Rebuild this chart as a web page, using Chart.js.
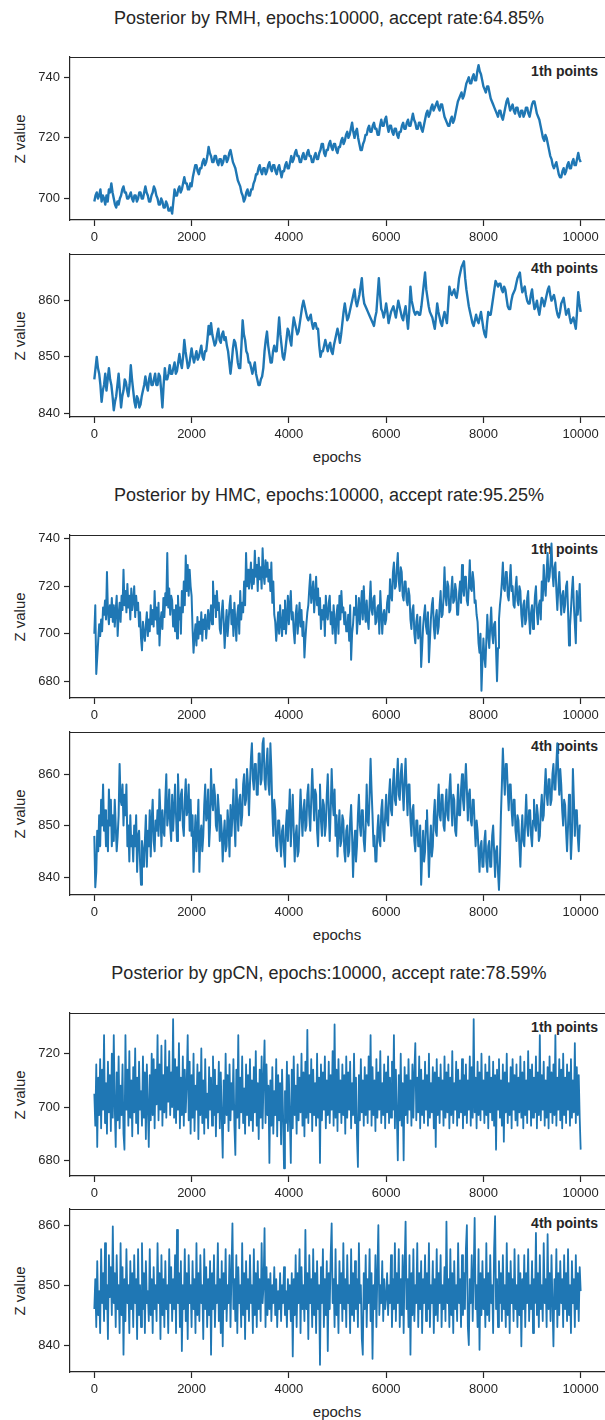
<!DOCTYPE html>
<html>
<head>
<meta charset="utf-8">
<script src="https://cdn.jsdelivr.net/npm/chart.js@4.4.1/dist/chart.umd.min.js"></script>
<style>
  body {
    margin: 0;
    background: #fff;
    width: 605px;
    height: 1420px;
    position: relative;
    overflow: hidden;
    font-family: "Liberation Sans", Arial, sans-serif;
    color: #262626;
  }
  canvas { position: absolute; left: 0; z-index: 1; }
  .title {
    position: absolute; left: 0; width: 658px;
    text-align: center; font-size: 18px; line-height: 20px;
  }
  .ylabel {
    position: absolute; left: 19px; font-size: 15px; white-space: nowrap;
    transform: translate(-50%, -50%) rotate(-90deg);
  }
  .xlabel {
    position: absolute; left: 337px; font-size: 15px;
    transform: translate(-50%, -50%);
  }
  .tag {
    position: absolute; right: 7px; font-size: 14px; font-weight: bold;
    line-height: 16px; z-index: 0;
  }
</style>
</head>
<body>
<script>
const EPOCHS = 10000;
const epochTicks = [0, 2000, 4000, 6000, 8000, 10000];

// RMH chains, one sample every 25 epochs
const rmhZ1 = [
  699,701,702,700,701,703,699,701,700,698,701,699,703,702,705,702,700,698,697,699,
  698,700,701,703,704,702,702,700,700,701,702,700,699,701,701,699,700,702,702,700,
  700,702,704,702,701,699,699,701,702,704,703,701,700,698,698,700,699,697,697,699,
  698,696,696,697,695,699,703,701,701,703,704,702,703,705,707,705,705,703,703,705,
  704,707,709,711,711,709,708,710,710,712,713,711,712,714,717,715,714,712,712,714,
  714,712,711,713,713,711,712,714,714,712,713,715,716,714,712,711,710,708,706,705,
  704,702,701,699,700,702,703,701,701,703,703,705,706,708,708,710,711,709,708,710,
  710,708,709,711,712,710,709,711,711,709,708,710,711,709,707,709,709,711,712,710,
  710,712,714,712,713,715,716,714,714,712,712,714,715,713,713,715,716,714,714,712,
  712,714,715,713,713,715,716,718,718,715,714,716,716,718,719,717,716,718,718,716,
  715,717,717,719,720,718,719,721,722,720,721,723,725,722,720,722,723,720,718,716,
  716,718,719,721,721,723,724,722,722,724,725,723,723,721,721,724,726,724,724,726,
  727,724,722,724,724,722,721,723,723,721,720,722,722,724,725,723,723,725,726,724,
  724,726,728,726,725,723,723,725,725,723,722,724,726,728,729,727,728,730,731,729,
  730,731,732,730,729,731,731,729,727,726,725,724,724,726,727,725,726,728,730,732,
  733,734,735,733,734,736,738,739,740,738,738,740,741,739,739,742,744,742,741,739,
  737,736,735,737,737,735,733,732,731,730,729,728,727,729,729,727,726,728,730,732,
  733,731,729,730,731,729,728,730,730,728,727,729,729,727,728,730,730,728,727,729,
  731,732,732,730,728,727,726,724,722,720,719,721,720,718,716,714,713,711,710,711,
  712,710,708,707,707,709,710,708,709,711,712,710,710,712,713,711,711,713,715,713,
  712
];
const rmhZ4 = [
  846,848,850,848,847,845,842,844,845,847,844,846,848,846,845,843,840.5,842,843,845,
  847,844,841,843,844,846,845.5,844,843,845,848.5,846,844,842,841,843,842.5,841,841.5,843,
  844,845,846.5,845,844,846,847,845,845,846,847,845,845,847,846.5,844,841,845,848,846,
  846,847,848.5,847,847,848,849,847,847.5,849,850.5,849,848,850,853,851,849.5,848,848.5,850,
  851.5,850,849,850,851,849.5,850,851,852,850,849.5,851,851,853,855.5,854,856,854,853,852,
  852.5,854,855,853,852.5,854,854.5,853,853.5,852,851,849,847,849,851.5,853,852.5,851,849,848,
  848,852,856.5,854,853,851,850.5,849,849,848,847,848,849,847,846,845,845,846,846.5,848,
  851,853,854.5,852,850.5,849,849,851,852,851,851,854,857,854,852,850,849.5,851,853,855,
  854.5,853,852,855,857,856,855,854,854.5,856,857.5,859,860,859,858,857,856.5,857,857.5,856,
  855,856,856,855,855,852,850,851,851,852,853,852,851,852,852.5,851,850.5,852,853,854,
  855,854,852.5,854,856,858,859.5,858,856.5,857,858,859,860,861,862,860,859,860,861,862.5,
  864,861,859.5,859,858.5,858,857.5,857,856.5,856,855.5,857,858,861,864,861,858.5,858,857,858,
  859.5,858,856,857,858,858.5,859,858,857,858.5,860,859,858,857,856.5,858,859,857,855,858,
  862.5,860,859,858,857.5,858,858,857.5,857.5,859,861,863,865,862,860.5,859,858,857.5,857,856,
  855,857,859.5,858,857,856,855.5,857,858,857,856,859,862.5,861.5,861,861.5,862,861,860.5,862,
  864,865,866,866.5,867,864,862,860.5,859,858,857,856,855.5,856.5,857.5,856.5,856,857,858,856.5,
  855,854,853.5,856,858,857.5,857.5,859,860.5,862,863.5,863,862.5,863,863,862,861.5,862.5,862,860.5,
  859,858.5,858.5,860,861,861.5,862,863,864,864.5,865,863,861.5,862,862.5,861,860,859.5,859.5,861,
  862,860,858.5,859,860,858.5,857.5,859,860.5,860,859,860,861,862,862.5,861,860,860.5,861,860,
  858.5,857.5,857,858,859.5,860,860.5,859,857.5,858,858.5,857,856,856.5,857,856,855,858,861.5,859.5,
  858
];

// HMC chains, one sample every 20 epochs
const hmcZ1 = [
  700,712,683,690,697,704,699,706,701,711,708,714,706,726,709,704,712,707,715,705,
  712,703,710,716,699,708,713,705,716,710,727,712,718,709,721,711,716,706,719,710,
  714,720,707,716,710,713,703,709,698,693,705,700,697,704,709,699,706,701,712,704,
  710,703,718,706,711,700,713,695,705,709,702,715,707,717,712,734,711,719,708,716,
  714,703,710,701,712,698,716,706,711,700,718,709,722,712,733,718,729,716,727,720,
  716,702,692,699,704,695,707,698,705,700,709,697,706,702,708,698,704,710,702,707,
  712,704,722,711,716,707,718,710,713,702,700,709,714,705,694,703,710,699,705,712,
  716,704,710,699,713,705,697,708,712,700,718,706,713,709,722,712,734,720,727,719,
  723,730,719,727,721,735,724,729,718,732,723,728,719,736,725,721,731,724,730,722,
  727,718,730,713,722,708,705,697,703,709,700,712,704,699,710,702,714,700,707,716,
  704,712,718,706,709,701,696,708,712,700,706,713,703,710,699,705,690,698,704,709,
  712,719,725,713,717,722,709,716,724,712,719,708,715,702,710,706,712,699,716,708,
  706,713,716,704,709,700,712,705,696,708,712,700,716,706,718,709,711,704,709,701,
  701,708,697,712,689,700,704,711,708,716,700,707,715,704,711,718,706,720,710,705,
  714,706,702,713,722,710,708,715,716,704,705,711,712,700,718,709,700,708,710,704,
  706,713,716,709,723,716,714,726,730,719,720,728,734,722,718,728,726,716,714,722,
  722,714,712,719,716,706,702,710,712,700,696,705,708,698,700,707,686,694,703,708,
  712,703,700,709,688,697,706,712,715,703,698,707,710,700,703,712,718,707,708,715,
  728,716,712,722,720,709,710,718,724,713,714,721,718,708,708,717,722,713,729,719,
  716,724,724,714,712,720,731,719,718,726,722,713,714,708,705,696,692,700,676,688,
  698,690,686,697,708,699,694,703,711,700,696,704,705,693,680,694,706,712,716,722,
  730,719,718,726,726,716,714,722,729,718,720,712,711,719,724,714,712,720,718,708,
  703,712,714,704,706,715,718,707,700,709,712,702,708,716,720,709,704,712,714,706,
  722,714,729,720,716,726,734,722,724,730,738,726,720,728,730,718,710,719,726,716,
  708,716,718,709,712,720,722,710,695,703,710,718,724,712,704,696,718,708,713,721,
  705
];
const hmcZ4 = [
  848,838,841,849,845,852,846,855,850,858,849,853,846,851,845,857,850,855,846,852,
  847,855,850,845,848,852,862,855,854,858,850,856,852,858,846,850,843,852,846,848,
  843,850,846,852,841,848,849,843,838.5,847,845,842,847,852,842,849,846,853,844,851,
  855,847,845,851,849,853,848,857,852,846,853,849,848,855,860,850,852,857,850,847,
  856,849,853,858,852,847,860,854,851,856,857,850,848,855,859,852,853,858,849,855,
  848,852,841,847,852,845,849,855,841,848,850,845,848,854,858,851,852,857,846,850,
  861,855,853,858,856,850,849,856,853,847,852,849,843,848,851,845,846,853,850,844,
  854,848,852,857,851,846,859,853,849,855,856,850,852,858,860,854,855,861,858,852,
  858,863,866,859,857,862,862,856,856,864,864,858,859,866,867,859,857,862,865,858,
  856,866,861,853,848,855,853,846,845,851,851,847,844,849,850,845,842,850,853,847,
  852,857,846,851,856,849,843,848,850,844,845,851,857,852,848,853,855,849,850,856,
  858,852,849,855,861,856,851,857,856,849,846,853,858,851,848,855,854,848,850,856,
  860,853,847,853,861,855,852,857,848,852,844,849,853,846,847,852,851,845,843,849,
  850,844,845,851,854,848,840,846,849,843,846,852,856,850,848,853,853,847,845,850,
  858,851,850,856,863,857,852,846,848,843,843,849,852,847,846,853,855,849,847,852,
  856,851,850,856,859,853,852,858,861,855,854,859,863,856,855,860,862,857,853,859,
  863,857,852,858,858,851,848,853,854,847,845,851,851,846,846,850,838.5,844,849,843,
  845,851,853,847,840,846,850,844,846,852,855,849,848,854,858,852,851,856,856,850,
  849,854,857,852,851,857,860,854,850,856,855,849,848,853,858,852,852,857,860,855,
  853,858,862,857,851,856,857,851,850,855,855,850,846,851,849,845,841,846,847,842,
  842,847,849,843,841,846,847,842,842,848,850,845,840,845,846,841,837.5,843,852,858,
  865,860,856,862,862,857,853,858,858,853,850,855,855,849,847,852,851,846,842,848,
  852,847,846,851,856,850,848,853,853,848,846,851,855,850,849,854,852,847,848,853,
  856,851,852,857,861,856,854,859,859,854,855,860,862,857,857,862,866,860,856,861,
  858,853,850,855,854,849,845,850,856,851,843.5,848,861,855,848,853,853,848,845,850,
  850
];

// gpCN chains, one sample every 20 epochs
const gpcnZ1 = [
  705,693,716,685,711,697,718,692,714,699,727,694,709,690,717,698,712,691,720,696,
  727,700,685,713,695,719,692,708,697,716,690,684,727,699,714,693,721,696,710,689,
  715,698,722,694,711,690,717,699,706,693,719,696,713,688,716,700,685,712,695,720,
  697,718,692,714,701,727,695,716,699,723,693,712,698,725,696,715,702,721,697,713,
  700,733,696,718,694,715,699,724,692,711,697,719,693,714,698,709,727,695,717,690,
  712,696,720,691,708,699,716,688,713,697,722,694,710,690,718,696,705,692,715,699,
  711,693,719,697,714,689,708,698,717,692,713,696,681,710,694,720,697,712,691,716,
  695,709,699,718,693,682,714,696,727,692,711,698,719,694,707,690,716,697,712,693,
  718,695,710,691,715,698,721,693,709,688,714,696,719,692,711,725,694,716,697,708,
  679,710,693,715,690,706,697,718,689,712,695,709,686,714,698,677,706,694,717,691,
  712,696,679,714,692,719,697,708,690,716,695,711,698,720,693,713,689,717,696,729,
  694,712,698,718,691,714,697,709,693,720,696,711,679,716,695,713,699,719,692,710,
  697,717,694,712,699,721,693,731,696,714,691,718,698,710,694,716,697,712,690,719,
  696,713,699,717,692,709,697,720,694,711,689,677.5,712,695,718,698,710,693,715,697,
  712,694,719,699,727,693,715,697,710,691,718,696,713,699,721,694,709,697,716,692,
  713,698,719,694,711,696,717,699,727,692,714,697,680,712,695,720,693,709,680,715,
  697,712,694,718,699,710,693,716,696,713,724,695,711,698,719,692,714,697,710,694,
  717,699,712,693,720,696,709,698,715,692,713,685,718,697,711,694,716,699,710,693,
  719,696,713,698,716,692,711,697,721,694,709,699,717,693,714,696,710,698,718,692,
  712,697,716,694,710,699,719,693,715,696,733,698,711,692,717,697,713,695,720,699,
  710,694,716,697,713,692,719,698,711,695,717,693,712,684,714,699,718,696,710,693,
  716,687,713,698,720,694,709,697,715,692,718,699,712,695,716,693,711,698,719,696,
  713,692,717,697,710,694,721,699,714,693,716,696,711,698,719,692,713,697,727,695,
  712,699,717,693,710,696,715,692,719,698,713,694,716,697,727,693,711,699,718,695,
  714,692,720,697,711,694,716,699,713,693,718,696,710,698,724,694,715,697,712,696,
  684
];
const gpcnZ4 = [
  846,851,843,854,845,849,842,856,847,852,844,857,846,850,841,855,848,853,845,859.8,
  847,852,843,855,846,850,842,857,845,853,838.4,851,844,856,847,850,842,854,846,852,
  843,855,847,851,841,856,845,850,843,857,846,852,842,854,847,849,844,856,845,851,
  842,853,846,850,844,857,847,852,841,855,845,851,843,854,846,850,842,856,847,853,
  844,851,846,855,842,859.2,847,852,843,854,839,850,846,856,844,852,841,855,847,850,
  843,854,846,851,842,857,845,852,844,855,847,850,841,856,846,853,843,851,845,854,
  838.4,852,846,855,843,850,847,857,844,851,842,854,839.8,852,846,856,844,850,847,855,
  843,852,860.3,846,851,844,855,842,853,847,850,843,857,845,852,841,854,846,851,844,
  855,847,850,842,856,845,852,843,854,846,851,844,857,847,850,859.5,843,853,845,851,
  846,852,844,850,847,853,845,851,843,849,846,852,844,850,847,853,845,849,843,851,
  846,850,844,852,838.1,851,845,855,843,852,847,856,842,853,846,850,844,859.2,846,852,
  841,855,847,851,843,856,845,852,842,854,846,850,836.7,853,847,856,843,851,845,854,
  839,852,846,855,860.3,847,851,843,856,845,850,842,854,847,852,844,857,846,851,843,
  855,847,850,842,856,845,852,844,854,846,851,843,857,847,850,841,838.4,852,846,855,
  843,851,847,856,844,852,837.7,850,846,855,843,852,860,845,850,847,854,844,851,846,
  848,852,845,850,847,855,843,851,846,857,844,852,847,856,843,851,845,855,842,853,
  860.6,846,851,843,855,838.4,852,845,856,844,850,847,857,843,852,846,854,842,851,847,
  855,844,852,846,857,843,850,847,854,842,851,845,856,844,852,847,855,843,850,846,
  853,844,860.6,847,851,843,856,845,852,842,854,846,850,844,857,847,851,843,855,845,
  852,846,856,860,843,840,851,847,855,844,852,861.2,846,850,843,856,839.2,852,845,854,
  846,851,843,857,845,852,844,855,847,850,842,856,861.5,846,851,843,854,847,852,844,
  855,846,850,843,857,845,852,842,854,847,851,844,856,846,850,843,855,845,852,839.8,
  851,846,855,843,852,847,856,844,850,846,854,842,851,847,858.7,845,852,843,855,846,
  850,844,857,847,851,843,858.5,846,852,844,855,847,839.8,851,846,856,843,852,845,854,
  847,851,843,855,846,852,844,856,845,850,842,854,847,851,843,855,846,852,844,853,
  849
];

const titles = [
  { text: "Posterior by RMH, epochs:10000, accept rate:64.85%", y: 18 },
  { text: "Posterior by HMC, epochs:10000, accept rate:95.25%", y: 495 },
  { text: "Posterior by gpCN, epochs:10000, accept rate:78.59%", y: 973 }
];

const panels = [
  { values: rmhZ1,  top: 57,   yMin: 692.9, yMax: 746.7, yTicks: [700, 720, 740],      tag: "1th points", epochs: false, lw: 2.4 },
  { values: rmhZ4,  top: 254,  yMin: 839.3, yMax: 868.3, yTicks: [840, 850, 860],      tag: "4th points", epochs: true,  lw: 2.4 },
  { values: hmcZ1,  top: 535,  yMin: 672.9, yMax: 741.6, yTicks: [680, 700, 720, 740], tag: "1th points", epochs: false, lw: 2.0 },
  { values: hmcZ4,  top: 732,  yMin: 836.5, yMax: 868.2, yTicks: [840, 850, 860],      tag: "4th points", epochs: true,  lw: 2.0 },
  { values: gpcnZ1, top: 1013, yMin: 674.1, yMax: 735.3, yTicks: [680, 700, 720],      tag: "1th points", epochs: false, lw: 1.8 },
  { values: gpcnZ4, top: 1209, yMin: 835.5, yMax: 862.7, yTicks: [840, 850, 860],      tag: "4th points", epochs: true,  lw: 1.8 }
];

const WIDTH = 605;
const PLOT_H = 163;
const PAD_TOP = 12;
const AXIS_H = 30;
const Y_AXIS_W = 70;
const INK = "#262626";
const LINE = "#1f77b4";

Chart.defaults.font.family = '"Liberation Sans", Arial, sans-serif';

function addText(cls, text, css) {
  const el = document.createElement("div");
  el.className = cls;
  el.textContent = text;
  Object.assign(el.style, css);
  document.body.appendChild(el);
}

// matplotlib-style frame: top edge of the axes box
const topSpine = {
  id: "topSpine",
  afterDraw(chart) {
    const { ctx, chartArea: a } = chart;
    ctx.save();
    ctx.strokeStyle = INK;
    ctx.lineWidth = 1.2;
    ctx.beginPath();
    ctx.moveTo(a.left, a.top + 0.5);
    ctx.lineTo(a.right, a.top + 0.5);
    ctx.stroke();
    ctx.restore();
  }
};

function axisStyle(ticks) {
  return {
    afterBuildTicks: (axis) => { axis.ticks = ticks.map((v) => ({ value: v })); },
    grid: { drawOnChartArea: false, tickLength: 6, tickWidth: 1.2, tickColor: INK },
    border: { color: INK, width: 1.2 },
    ticks: {
      color: INK, font: { size: 13 }, padding: 4, maxRotation: 0, autoSkip: false,
      callback: (v) => String(v)
    }
  };
}

titles.forEach((t) => addText("title", t.text, { top: (t.y - 10) + "px" }));

panels.forEach((p) => {
  const canvas = document.createElement("canvas");
  canvas.width = WIDTH;
  canvas.height = PLOT_H + PAD_TOP + AXIS_H;
  canvas.style.top = (p.top - PAD_TOP) + "px";
  document.body.appendChild(canvas);

  addText("ylabel", "Z value", { top: (p.top + PLOT_H / 2) + "px" });
  addText("tag", p.tag, { top: (p.top + 6) + "px" });
  if (p.epochs) addText("xlabel", "epochs", { top: (p.top + PLOT_H + 39) + "px" });

  const step = EPOCHS / (p.values.length - 1);
  const points = p.values.map((v, i) => ({ x: i * step, y: v }));

  new Chart(canvas, {
    type: "line",
    data: {
      datasets: [{
        data: points,
        borderColor: LINE,
        borderWidth: p.lw,
        borderJoinStyle: "round",
        pointRadius: 0,
        tension: 0,
        fill: false
      }]
    },
    options: {
      responsive: false,
      animation: false,
      events: [],
      layout: { padding: { top: PAD_TOP, right: 0, bottom: 0, left: 0 } },
      plugins: { legend: { display: false }, tooltip: { enabled: false } },
      scales: {
        x: Object.assign({
          type: "linear", min: -500, max: 10500,
          afterFit: (axis) => { axis.height = AXIS_H; }
        }, axisStyle(epochTicks)),
        y: Object.assign({
          type: "linear", min: p.yMin, max: p.yMax,
          afterFit: (axis) => { axis.width = Y_AXIS_W; }
        }, axisStyle(p.yTicks))
      }
    },
    plugins: [topSpine]
  });
});
</script>
</body>
</html>
